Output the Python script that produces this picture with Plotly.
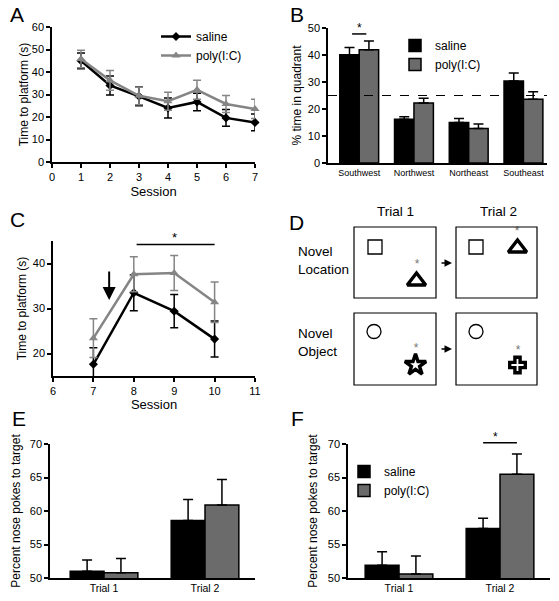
import plotly.graph_objects as go

W, H = 559, 601
FONT = "Arial, Liberation Sans, Helvetica, sans-serif"
BLACK = "#000000"
GRAY_LINE = "#858585"
GRAY_BAR = "#6b6b6b"

# ---------------- Panel A : acquisition ----------------
a_sessions = [1, 2, 3, 4, 5, 6, 7]
a_saline = [45.0, 34.0, 29.2, 24.0, 26.7, 19.6, 17.6]
a_saline_err = [3.5, 4.2, 4.2, 4.4, 3.9, 3.7, 3.7]
a_poly = [45.8, 36.3, 29.4, 27.0, 32.1, 25.8, 23.6]
a_poly_err = [3.9, 4.4, 3.9, 4.0, 4.2, 3.8, 4.3]

# ---------------- Panel B : probe trial ----------------
b_quadrants = ["Southwest", "Northwest", "Northeast", "Southeast"]
b_saline = [40.1, 16.2, 15.0, 30.4]
b_saline_err = [2.7, 0.9, 1.5, 2.9]
b_poly = [41.9, 22.2, 12.8, 23.6]
b_poly_err = [3.3, 1.8, 1.6, 2.8]
b_chance = 25

# ---------------- Panel C : reversal ----------------
c_sessions = [7, 8, 9, 10]
c_saline = [17.6, 33.5, 29.4, 23.2]
c_saline_err = [3.7, 4.0, 3.7, 4.0]
c_poly = [23.4, 37.6, 37.9, 31.4]
c_poly_err = [4.3, 3.9, 3.9, 4.5]

# ---------------- Panel E : novel location ----------------
e_trials = ["Trial 1", "Trial 2"]
e_saline = [51.0, 58.6]
e_saline_err = [1.7, 3.1]
e_poly = [50.8, 60.9]
e_poly_err = [2.1, 3.8]

# ---------------- Panel F : novel object ----------------
f_trials = ["Trial 1", "Trial 2"]
f_saline = [51.9, 57.4]
f_saline_err = [2.0, 1.5]
f_poly = [50.6, 65.5]
f_poly_err = [2.7, 3.0]

# ---------------- Panel D : schematic (pixel layout) ----------------
d_boxes = [(354, 227, 436, 298), (456, 227, 537, 298),
           (354, 313, 436, 385), (456, 313, 537, 385)]
d_thin_symbols = ["square-open", "square-open", "circle-open", "circle-open"]
d_thin_x = [375, 476, 374, 476]
d_thin_y = [247, 247, 331.5, 331.5]
d_target_symbols = ["triangle-up-open", "triangle-up-open", "star-open", "cross-open"]
d_target_x = [416.5, 517.5, 415.5, 517.5]
d_target_y = [281, 248, 365, 365]
d_star_x = [417, 517, 416, 518]
d_star_y = [265, 232, 349, 351]


def px(x):
    return x / W


def py(y):
    return 1 - y / H


def dom_x(a, b):
    return [px(a), px(b)]


def dom_y(top, bottom):
    return [py(bottom), py(top)]


fig = go.Figure()

# ---- A ----
fig.add_trace(go.Scatter(
    x=a_sessions, y=a_saline, mode="lines+markers", name="saline",
    line=dict(color=BLACK, width=2.5), marker=dict(symbol="diamond", size=7, color=BLACK),
    error_y=dict(type="data", array=a_saline_err, color=BLACK, thickness=1.5, width=4),
    xaxis="x", yaxis="y", legend="legend", cliponaxis=False))
fig.add_trace(go.Scatter(
    x=a_sessions, y=a_poly, mode="lines+markers", name="poly(I:C)",
    line=dict(color=GRAY_LINE, width=2.5), marker=dict(symbol="triangle-up", size=8, color=GRAY_LINE),
    error_y=dict(type="data", array=a_poly_err, color=GRAY_LINE, thickness=1.5, width=4),
    xaxis="x", yaxis="y", legend="legend", cliponaxis=False))

# ---- B ----
fig.add_trace(go.Bar(
    x=list(range(len(b_quadrants))), y=b_saline, name="saline",
    marker=dict(color=BLACK, line=dict(color=BLACK, width=1.5)),
    error_y=dict(type="data", array=b_saline_err, arrayminus=[0] * 4, symmetric=False,
                 color=BLACK, thickness=1.5, width=5),
    xaxis="x2", yaxis="y2", legend="legend2"))
fig.add_trace(go.Bar(
    x=list(range(len(b_quadrants))), y=b_poly, name="poly(I:C)",
    marker=dict(color=GRAY_BAR, line=dict(color=BLACK, width=1.5)),
    error_y=dict(type="data", array=b_poly_err, arrayminus=[0] * 4, symmetric=False,
                 color=BLACK, thickness=1.5, width=5),
    xaxis="x2", yaxis="y2", legend="legend2"))

# ---- C ----
fig.add_trace(go.Scatter(
    x=c_sessions, y=c_saline, mode="lines+markers", name="saline", showlegend=False,
    line=dict(color=BLACK, width=2.5), marker=dict(symbol="diamond", size=7, color=BLACK),
    error_y=dict(type="data", array=c_saline_err, color=BLACK, thickness=1.5, width=4),
    xaxis="x3", yaxis="y3"))
fig.add_trace(go.Scatter(
    x=c_sessions, y=c_poly, mode="lines+markers", name="poly(I:C)", showlegend=False,
    line=dict(color=GRAY_LINE, width=2.5), marker=dict(symbol="triangle-up", size=8, color=GRAY_LINE),
    error_y=dict(type="data", array=c_poly_err, color=GRAY_LINE, thickness=1.5, width=4),
    xaxis="x3", yaxis="y3"))

# ---- D ----
fig.add_trace(go.Scatter(
    x=d_thin_x, y=d_thin_y, mode="markers", showlegend=False, hoverinfo="skip",
    marker=dict(symbol=d_thin_symbols, size=14, color=BLACK, opacity=1,
                line=dict(width=1.3, color=BLACK)),
    xaxis="x4", yaxis="y4"))
fig.add_trace(go.Scatter(
    x=d_target_x, y=d_target_y, mode="markers", showlegend=False, hoverinfo="skip",
    marker=dict(symbol=d_target_symbols, size=[16, 16, 16, 13], color=BLACK, opacity=1,
                line=dict(width=3.4, color=BLACK)),
    xaxis="x4", yaxis="y4"))
fig.add_trace(go.Scatter(
    x=d_star_x, y=d_star_y, mode="text", text=["*"] * 4, showlegend=False, hoverinfo="skip",
    textfont=dict(size=12, color="#777777", family=FONT),
    xaxis="x4", yaxis="y4"))

# ---- E ----
fig.add_trace(go.Bar(
    x=e_trials, y=e_saline, name="saline", showlegend=False,
    marker=dict(color=BLACK, line=dict(color=BLACK, width=1.5)),
    error_y=dict(type="data", array=e_saline_err, arrayminus=[0, 0], symmetric=False,
                 color=BLACK, thickness=1.5, width=5),
    xaxis="x5", yaxis="y5"))
fig.add_trace(go.Bar(
    x=e_trials, y=e_poly, name="poly(I:C)", showlegend=False,
    marker=dict(color=GRAY_BAR, line=dict(color=BLACK, width=1.5)),
    error_y=dict(type="data", array=e_poly_err, arrayminus=[0, 0], symmetric=False,
                 color=BLACK, thickness=1.5, width=5),
    xaxis="x5", yaxis="y5"))

# ---- F ----
fig.add_trace(go.Bar(
    x=f_trials, y=f_saline, name="saline",
    marker=dict(color=BLACK, line=dict(color=BLACK, width=1.5)),
    error_y=dict(type="data", array=f_saline_err, arrayminus=[0, 0], symmetric=False,
                 color=BLACK, thickness=1.5, width=5),
    xaxis="x6", yaxis="y6", legend="legend3"))
fig.add_trace(go.Bar(
    x=f_trials, y=f_poly, name="poly(I:C)",
    marker=dict(color=GRAY_BAR, line=dict(color=BLACK, width=1.5)),
    error_y=dict(type="data", array=f_poly_err, arrayminus=[0, 0], symmetric=False,
                 color=BLACK, thickness=1.5, width=5),
    xaxis="x6", yaxis="y6", legend="legend3"))

axis_common = dict(showline=True, linecolor=BLACK, linewidth=1.5, ticks="outside", ticklen=4,
                   tickwidth=1.5, tickcolor=BLACK, showgrid=False, zeroline=False,
                   tickfont=dict(size=11, color=BLACK, family=FONT), automargin=False)


def ax(**kw):
    d = dict(axis_common)
    d.update(kw)
    return d


title_font = dict(size=12, color=BLACK, family=FONT)
session_font = dict(size=13, color=BLACK, family=FONT)

layout = dict(
    width=W, height=H, margin=dict(l=0, r=0, t=0, b=0),
    paper_bgcolor="white", plot_bgcolor="white", template="none",
    font=dict(family=FONT, color=BLACK),
    barmode="group",
    # A
    xaxis=ax(domain=dom_x(52, 255), range=[0, 7], tickvals=list(range(0, 8)), anchor="y",
             title=dict(text="Session", font=session_font, standoff=5)),
    yaxis=ax(domain=dom_y(27, 162), range=[0, 60], tickvals=list(range(0, 61, 10)), anchor="x",
             title=dict(text="Time to platform (s)", font=title_font, standoff=1)),
    # B
    xaxis2=ax(domain=dom_x(328, 547), range=[-0.57, 3.43], tickvals=[0, 1, 2, 3],
              ticktext=b_quadrants, ticks="", anchor="y2",
              tickfont=dict(size=9, color=BLACK, family=FONT)),
    yaxis2=ax(domain=dom_y(28, 163), range=[0, 50], tickvals=list(range(0, 51, 10)), anchor="x2",
              title=dict(text="% time in quadrant", font=title_font, standoff=4)),
    # C
    xaxis3=ax(domain=dom_x(53, 255), range=[6, 11], tickvals=list(range(6, 12)), anchor="y3",
              title=dict(text="Session", font=session_font, standoff=2)),
    yaxis3=ax(domain=dom_y(241, 376), range=[15, 45], tickvals=[20, 30, 40], anchor="x3",
              title=dict(text="Time to platform (s)", font=title_font, standoff=4)),
    # D (pixel frame)
    xaxis4=dict(domain=dom_x(280, 559), range=[280, 559], visible=False, anchor="y4", fixedrange=True),
    yaxis4=dict(domain=dom_y(205, 405), range=[405, 205], visible=False, anchor="x4", fixedrange=True),
    # E
    xaxis5=ax(domain=dom_x(50, 255), range=[-0.535, 1.495], ticks="", anchor="y5",
              tickfont=dict(size=10.5, color=BLACK, family=FONT)),
    yaxis5=ax(domain=dom_y(444, 578), range=[50, 70], tickvals=[50, 55, 60, 65, 70], anchor="x5",
              title=dict(text="Percent nose pokes to target", font=title_font, standoff=7)),
    # F
    xaxis6=ax(domain=dom_x(348, 550), range=[-0.505, 1.495], ticks="", anchor="y6",
              tickfont=dict(size=10.5, color=BLACK, family=FONT)),
    yaxis6=ax(domain=dom_y(444, 578), range=[50, 70], tickvals=[50, 55, 60, 65, 70], anchor="x6",
              title=dict(text="Percent nose pokes to target", font=title_font, standoff=8)),
    legend=dict(x=px(156), y=py(22), xanchor="left", yanchor="top", bgcolor="rgba(0,0,0,0)",
                font=dict(size=12, color=BLACK, family=FONT), itemwidth=30, tracegroupgap=0),
    legend2=dict(x=px(395), y=py(31), xanchor="left", yanchor="top", bgcolor="rgba(0,0,0,0)",
                 font=dict(size=12, color=BLACK, family=FONT), itemwidth=30),
    legend3=dict(x=px(344), y=py(457), xanchor="left", yanchor="top", bgcolor="rgba(0,0,0,0)",
                 font=dict(size=12, color=BLACK, family=FONT), itemwidth=30),
)
fig.update_layout(**layout)

# Bar spacing per panel via per-trace width/offset
b_w = (1 - 0.29) / 2
for tr in fig.data:
    if tr.type == "bar":
        if tr.xaxis == "x2":
            tr.width = b_w
            tr.offset = -b_w if tr.name == "saline" else 0
        else:
            w = (1 - 0.33) / 2
            tr.width = w
            tr.offset = -w if tr.name == "saline" else 0

shapes = []
annotations = []

# panel letters
for letter, (lx, ly) in {"A": (8, 15), "B": (288, 15), "C": (8, 219), "D": (287, 222),
                         "E": (10, 418), "F": (289, 418)}.items():
    annotations.append(dict(text=letter, x=px(lx), y=py(ly), xref="paper", yref="paper",
                            xanchor="left", yanchor="middle", showarrow=False,
                            font=dict(size=21, color=BLACK, family=FONT)))

# B: chance line and significance
shapes.append(dict(type="line", xref="x2 domain", yref="y2", x0=0, x1=1, y0=b_chance, y1=b_chance,
                   line=dict(color=BLACK, width=1.2, dash="dash")))
shapes.append(dict(type="line", xref="x2", yref="y2", x0=-0.13, x1=0.13, y0=47.8, y1=47.8,
                   line=dict(color=BLACK, width=1.5)))
annotations.append(dict(text="*", x=0, y=47.8, xref="x2", yref="y2", yanchor="bottom",
                        showarrow=False, font=dict(size=12, color=BLACK, family=FONT), yshift=-3))

# C: significance and arrow
shapes.append(dict(type="line", xref="x3", yref="y3", x0=8.07, x1=10, y0=44.2, y1=44.2,
                   line=dict(color=BLACK, width=1.5)))
annotations.append(dict(text="*", x=9, y=44.2, xref="x3", yref="y3", yanchor="bottom",
                        showarrow=False, font=dict(size=13, color=BLACK, family=FONT), yshift=-2))
annotations.append(dict(text="", x=7.39, y=31.9, xref="x3", yref="y3", ax=0, ay=-30,
                        showarrow=True, arrowhead=2, arrowsize=1.3, arrowwidth=2, arrowcolor=BLACK))

# D: boxes, arrows, labels
for (x0, y0, x1, y1) in d_boxes:
    shapes.append(dict(type="rect", xref="x4", yref="y4", x0=x0, x1=x1, y0=y0, y1=y1,
                       line=dict(color=BLACK, width=1.2)))
for yy in (263, 349):
    annotations.append(dict(text="", x=452, y=yy, ax=440, ay=yy, xref="x4", yref="y4",
                            axref="x4", ayref="y4", showarrow=True, arrowhead=2, arrowsize=1,
                            arrowwidth=1.5, arrowcolor=BLACK))
for txt, xx in (("Trial 1", 395), ("Trial 2", 498)):
    annotations.append(dict(text=txt, x=xx, y=212, xref="x4", yref="y4", showarrow=False,
                            font=dict(size=13.5, color=BLACK, family=FONT)))
for txt, yy in (("Novel<br>Location", 261), ("Novel<br>Object", 343)):
    annotations.append(dict(text=txt, x=296, y=yy, xref="x4", yref="y4", showarrow=False,
                            xanchor="left", align="left",
                            font=dict(size=13.5, color=BLACK, family=FONT)))

# F: significance line above Trial 2 (outside the plotting range -> paper coords)
fd = dom_x(348, 550)
fr = [-0.505, 1.495]
fyd = dom_y(444, 578)


def fx(v):
    return fd[0] + (v - fr[0]) / (fr[1] - fr[0]) * (fd[1] - fd[0])


def fy(v):
    return fyd[0] + (v - 50) / 20 * (fyd[1] - fyd[0])


wF = (1 - 0.33) / 2
shapes.append(dict(type="line", xref="paper", yref="paper", x0=fx(1 - wF / 2), x1=fx(1 + wF / 2),
                   y0=fy(70.2), y1=fy(70.2), line=dict(color=BLACK, width=1.5)))
annotations.append(dict(text="*", x=fx(1), y=fy(70.2), xref="paper", yref="paper", yanchor="bottom",
                        showarrow=False, font=dict(size=12, color=BLACK, family=FONT), yshift=-3))

fig.update_layout(shapes=shapes, annotations=annotations)
fig.write_html("out.html", config={"displayModeBar": False},
               post_script="document.body.style.margin='0';document.body.style.overflow='hidden';")
